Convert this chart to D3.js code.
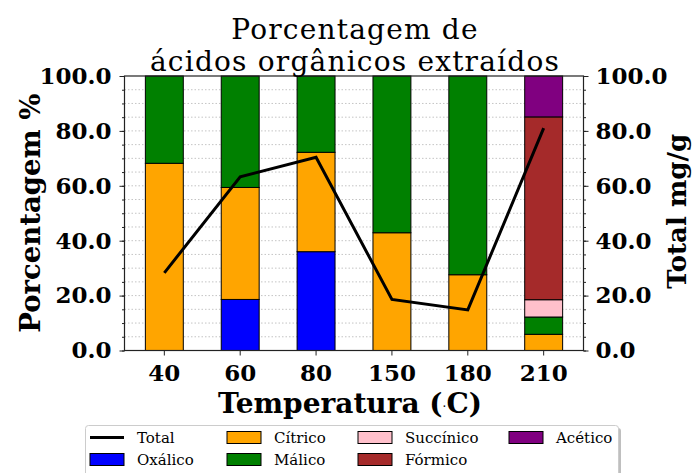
<!DOCTYPE html>
<html>
<head>
<meta charset="utf-8">
<script src="https://cdn.jsdelivr.net/npm/d3@7"></script>
<style>
    body { margin: 0; background: #fff; }
    svg { display: block; }
    .tick text { font-family: "DejaVu Serif", serif; font-weight: bold; font-size: 23px; fill: #000; }
    .tick line { stroke: #222; }
</style>
</head>
<body>
<svg id="chart"></svg>
<script>
// temperaturas e composicao (%) de cada amostra
var temps = ['40', '60', '80', '150', '180', '210'];
var oxalico   = [0, 18.6, 36.0, 0, 0, 0];
var citrico   = [68.2, 40.8, 36.2, 42.9, 27.6, 5.9];
var malico    = [31.8, 40.6, 27.8, 57.1, 72.4, 6.3];
var succinico = [0, 0, 0, 0, 0, 6.3];
var formico   = [0, 0, 0, 0, 0, 66.6];
var acetico   = [0, 0, 0, 0, 0, 14.9];
var total     = [28.3, 63.3, 70.4, 18.6, 14.8, 81.0];

var seriesNames = ['Oxálico', 'Cítrico', 'Málico', 'Succínico', 'Fórmico', 'Acético'];
var seriesColors = ['#0000ff', '#ffa500', '#008000', '#ffc0cb', '#a52a2a', '#800080'];
var majorTicks = [0, 20, 40, 60, 80, 100];

(function () {
    var W = 696, H = 473;
    var PLOT = {left: 124.5, right: 583.5, top: 76, bottom: 350.5};
    var SERIF = '"DejaVu Serif", serif';

    var svg = d3.select('#chart').attr('width', W).attr('height', H);

    var x = d3.scaleBand().domain(temps).range([PLOT.left, PLOT.right])
        .paddingInner(0.5).paddingOuter(0.275);
    var y = d3.scaleLinear().domain([0, 100]).range([PLOT.bottom, PLOT.top]);
    var y2 = d3.scaleLinear().domain([0, 100]).range([PLOT.bottom, PLOT.top]);

    // dotted grid every 5
    svg.append('g').selectAll('line').data(d3.range(5, 100, 5)).enter().append('line')
        .attr('x1', PLOT.left).attr('x2', PLOT.right)
        .attr('y1', function(d) { return y(d); }).attr('y2', function(d) { return y(d); })
        .style('stroke', '#c4c4c4').style('stroke-width', 1).style('stroke-dasharray', '1.5,2');

    // stacked bars
    var rows = temps.map(function(t, i) {
        return {t: t, vals: [oxalico[i], citrico[i], malico[i], succinico[i], formico[i], acetico[i]]};
    });
    var segs = [];
    rows.forEach(function(r) {
        var base = 0;
        r.vals.forEach(function(v, k) {
            if (v > 0) segs.push({t: r.t, y0: base, y1: base + v, color: seriesColors[k]});
            base += v;
        });
    });
    svg.append('g').selectAll('rect').data(segs).enter().append('rect')
        .attr('x', function(d) { return x(d.t); })
        .attr('width', x.bandwidth())
        .attr('y', function(d) { return y(d.y1); })
        .attr('height', function(d) { return y(d.y0) - y(d.y1); })
        .style('fill', function(d) { return d.color; })
        .style('stroke', '#000').style('stroke-width', 1);

    // total line on the right axis
    var line = d3.line()
        .x(function(d, i) { return x(temps[i]) + x.bandwidth() / 2; })
        .y(function(d) { return y2(d); });
    svg.append('path').datum(total).attr('d', line)
        .style('fill', 'none').style('stroke', '#000').style('stroke-width', 3);

    // axes
    var minor = d3.range(0, 101, 5);
    svg.append('g').attr('transform', 'translate(' + PLOT.left + ',0)')
        .call(d3.axisLeft(y).tickValues(minor).tickSize(2.5).tickFormat(''))
        .call(function(g) { g.select('.domain').remove(); });
    svg.append('g').attr('transform', 'translate(' + PLOT.left + ',0)')
        .call(d3.axisLeft(y).tickValues(majorTicks).tickSize(5).tickPadding(8).tickFormat(d3.format('.1f')))
        .call(function(g) { g.select('.domain').remove(); });
    svg.append('g').attr('transform', 'translate(' + PLOT.right + ',0)')
        .call(d3.axisRight(y2).tickValues(minor).tickSize(2.5).tickFormat(''))
        .call(function(g) { g.select('.domain').remove(); });
    svg.append('g').attr('transform', 'translate(' + PLOT.right + ',0)')
        .call(d3.axisRight(y2).tickValues(majorTicks).tickSize(5).tickPadding(7).tickFormat(d3.format('.1f')))
        .call(function(g) { g.select('.domain').remove(); });
    svg.append('g').attr('transform', 'translate(0,' + PLOT.bottom + ')')
        .call(d3.axisBottom(x).tickSize(5).tickPadding(9))
        .call(function(g) { g.select('.domain').remove(); });

    svg.append('rect').attr('x', PLOT.left).attr('y', PLOT.top)
        .attr('width', PLOT.right - PLOT.left).attr('height', PLOT.bottom - PLOT.top)
        .style('fill', 'none').style('stroke', '#222').style('stroke-width', 1.2);

    // titles
    var title = svg.append('text').attr('text-anchor', 'middle')
        .style('font-family', SERIF).style('font-size', '28px').style('letter-spacing', '1.2px');
    title.append('tspan').attr('x', 355).attr('y', 39).text('Porcentagem de');
    title.append('tspan').attr('x', 355).attr('y', 71).text('ácidos orgânicos extraídos');

    svg.append('text').attr('text-anchor', 'middle')
        .attr('transform', 'translate(40,' + (PLOT.top + PLOT.bottom) / 2 + ') rotate(-90)')
        .style('font-family', SERIF).style('font-weight', 'bold').style('font-size', '27.5px')
        .text('Porcentagem %');
    svg.append('text').attr('text-anchor', 'middle')
        .attr('transform', 'translate(686,' + (PLOT.top + PLOT.bottom - 4) / 2 + ') rotate(-90)')
        .style('font-family', SERIF).style('font-weight', 'bold').style('font-size', '26px')
        .text('Total mg/g');
    var xl = svg.append('text').attr('text-anchor', 'middle').attr('x', 350).attr('y', 413)
        .style('font-family', SERIF).style('font-weight', 'bold').style('font-size', '28px');
    xl.append('tspan').text('Temperatura (');
    xl.append('tspan').style('font-size', '12px').style('font-weight', 'normal').attr('dy', -2).text('·');
    xl.append('tspan').attr('dy', 2).text('C)');

    // legend
    var leg = svg.append('g');
    leg.append('rect').attr('x', 88).attr('y', 428).attr('width', 533).attr('height', 60).attr('rx', 3)
        .style('fill', '#000').style('opacity', 0.25);
    leg.append('rect').attr('x', 85.5).attr('y', 425.5).attr('width', 533).attr('height', 60).attr('rx', 3)
        .style('fill', '#fff').style('stroke', '#cccccc').style('stroke-width', 1);

    var items = [{name: 'Total', color: '#000', line: true}].concat(seriesNames.map(function(n, k) {
        return {name: n, color: seriesColors[k]};
    }));
    var colX = [90, 227, 358, 509];
    var rowY = [437.5, 459.5];
    items.forEach(function(it, i) {
        var cx = colX[Math.floor(i / 2)], cy = rowY[i % 2];
        if (it.line) {
            leg.append('line').attr('x1', cx).attr('x2', cx + 34).attr('y1', cy).attr('y2', cy)
                .style('stroke', '#000').style('stroke-width', 3);
        } else {
            leg.append('rect').attr('x', cx).attr('y', cy - 6).attr('width', 34).attr('height', 12)
                .style('fill', it.color).style('stroke', '#000').style('stroke-width', 1);
        }
        leg.append('text').attr('x', cx + 47).attr('y', cy + 5.5)
            .style('font-family', SERIF).style('font-size', '15px').text(it.name);
    });
}());
</script>
</body>
</html>
